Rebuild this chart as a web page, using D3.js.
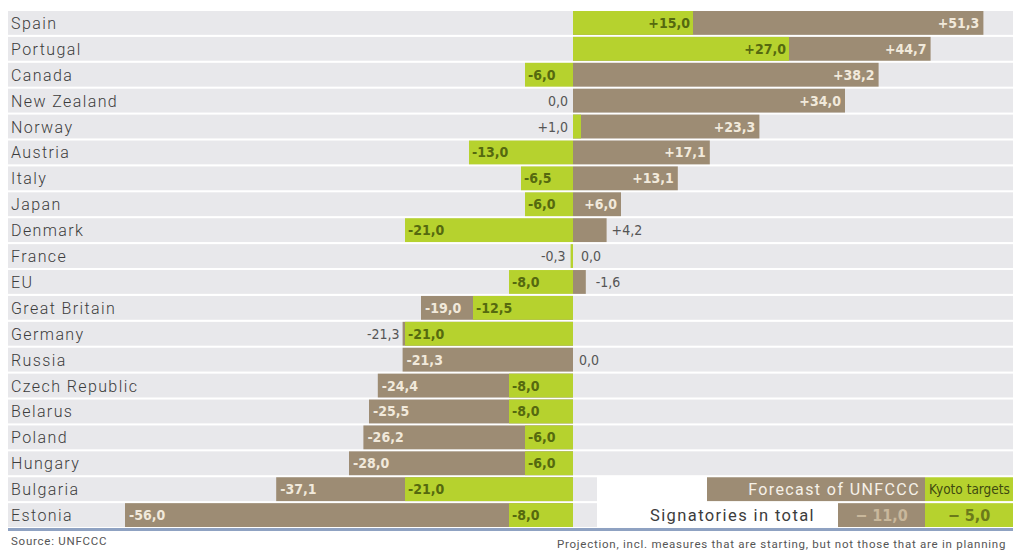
<!DOCTYPE html>
<html>
<head>
<meta charset="utf-8">
<script src="https://cdn.jsdelivr.net/npm/d3@7"></script>
<style>
  body { margin: 0; background: #fff; }
  svg { display: block; }
  .name { font-family: Roboto, "DejaVu Sans", sans-serif; font-size: 16px; font-weight: 300; letter-spacing: 1.4px; fill: #3c3c3c; }
  .val { font-family: "DejaVu Sans Condensed", "Liberation Sans Narrow", sans-serif; font-size: 14px; font-weight: bold; }
  .note { font-family: Roboto, "DejaVu Sans", sans-serif; font-size: 11.5px; letter-spacing: 0.75px; fill: #555; }
</style>
</head>
<body>
<div id="chart"></div>
<script>
// values in percent change of emissions vs 1990
const countries = ["Spain", "Portugal", "Canada", "New Zealand", "Norway", "Austria", "Italy",
  "Japan", "Denmark", "France", "EU", "Great Britain", "Germany", "Russia", "Czech Republic",
  "Belarus", "Poland", "Hungary", "Bulgaria", "Estonia"];
const kyoto = [15, 27, -6, 0, 1, -13, -6.5, -6, -21, -0.3, -8, -12.5, -21, 0, -8, -8, -6, -6, -21, -8];
const forecast = [51.3, 44.7, 38.2, 34, 23.3, 17.1, 13.1, 6, 4.2, 0, -1.6, -19, -21.3, -21.3,
  -24.4, -25.5, -26.2, -28, -37.1, -56];
const totalLabel = "Signatories in total";
const totalForecast = -11.0;
const totalKyoto = -5.0;

const W = 1013, H = 550;
const green = "#b6d22e", brown = "#9d8c74", rowBg = "#e8e8eb";
const greenText = "#55690f", brownText = "#f1e9db", greyText = "#555";

const svg = d3.select("#chart").append("svg").attr("width", W).attr("height", H);

const x = d3.scaleLinear().domain([-60, 55]).range([93, 1013]);
const y = d3.scaleBand().domain(countries).range([11, 527]).paddingInner(0.08);
const bh = y.bandwidth();
const fmt = v => (v > 0 ? "+" : v < 0 ? "-" : "") + Math.abs(v).toFixed(1).replace(".", ",");

// row backgrounds; the last two rows leave room for the legend
svg.selectAll("rect.bg").data(countries).enter().append("rect")
  .attr("class", "bg")
  .attr("x", 8).attr("y", d => y(d))
  .attr("width", (d, i) => i >= countries.length - 2 ? x(3) - 8 : W - 8)
  .attr("height", bh).attr("fill", rowBg);

svg.selectAll("text.name").data(countries).enter().append("text")
  .attr("class", "name")
  .attr("x", 11).attr("y", d => y(d) + bh / 2 + 6)
  .text(d => d);

const rows = countries.map((c, i) => ({ c, g: kyoto[i], f: forecast[i] }));

rows.forEach(r => {
  const yy = y(r.c), cy = yy + bh / 2 + 5;
  const g = r.g, f = r.f;
  const sameSign = g * f > 0;
  const hidden = sameSign && Math.abs(f) <= Math.abs(g);

  // forecast bar (behind); a hidden one is shown as a stub on the free side
  let fx0 = Math.min(0, f), fx1 = Math.max(0, f);
  if (hidden) { fx0 = 0; fx1 = Math.abs(f); if (g > 0) { fx0 = -Math.abs(f); fx1 = 0; } }
  svg.append("rect").attr("x", x(fx0)).attr("y", yy)
    .attr("width", x(fx1) - x(fx0)).attr("height", bh).attr("fill", brown);

  // kyoto bar (front)
  svg.append("rect").attr("x", x(Math.min(0, g))).attr("y", yy)
    .attr("width", Math.abs(x(g) - x(0))).attr("height", bh).attr("fill", green);

  // kyoto label
  const gw = Math.abs(x(g) - x(0));
  const gt = svg.append("text").attr("class", "val").attr("y", cy).text(fmt(g));
  if (gw >= 36) {
    gt.attr("fill", greenText)
      .attr("x", g > 0 ? x(g) - 3 : x(g) + 3)
      .attr("text-anchor", g > 0 ? "end" : "start");
  } else {
    const left = f > 0 || (f === 0 && g < 0);
    gt.attr("fill", greyText).style("font-weight", "normal")
      .attr("x", left ? x(Math.min(0, g)) - 5 : x(Math.max(0, g)) + 6)
      .attr("text-anchor", left ? "end" : "start");
  }

  // forecast label
  let vis = Math.abs(x(f) - x(0));
  if (sameSign) vis = Math.max(0, Math.abs(x(f) - x(0)) - gw);
  const ft = svg.append("text").attr("class", "val").attr("y", cy).text(fmt(f));
  if (!hidden && vis >= 36) {
    ft.attr("fill", brownText)
      .attr("x", f > 0 ? x(f) - 4 : x(f) + 4)
      .attr("text-anchor", f > 0 ? "end" : "start");
  } else if (!hidden && f !== 0) {
    ft.attr("fill", greyText).style("font-weight", "normal")
      .attr("x", f > 0 ? x(f) + 5 : x(f) - 3)
      .attr("text-anchor", f > 0 ? "start" : "end");
  } else {
    ft.attr("fill", greyText).style("font-weight", "normal")
      .attr("x", x(fx1) + (hidden ? 10 : 8))
      .attr("text-anchor", "start");
  }
});

// legend + signatories total in the two bottom rows
const legY = y(countries[countries.length - 2]);
const totY = y(countries[countries.length - 1]);
const bx0 = 707, bx1 = 925, bx2 = W;
svg.append("rect").attr("x", bx0).attr("y", legY).attr("width", bx1 - bx0).attr("height", bh).attr("fill", brown);
svg.append("rect").attr("x", bx1).attr("y", legY).attr("width", bx2 - bx1).attr("height", bh).attr("fill", green);
svg.append("text").attr("class", "name").attr("x", bx1 - 5).attr("y", legY + bh / 2 + 6)
  .attr("text-anchor", "end").style("fill", "#f6f1e8").style("font-weight", "normal").text("Forecast of UNFCCC");
svg.append("text").attr("class", "val").attr("x", bx1 + 4).attr("y", legY + bh / 2 + 5)
  .style("font-weight", "normal").style("font-size", "13.5px")
  .attr("fill", "#3f4a10").text("Kyoto targets");

svg.append("rect").attr("x", 838).attr("y", totY).attr("width", bx1 - 838).attr("height", bh).attr("fill", brown);
svg.append("rect").attr("x", bx1).attr("y", totY).attr("width", bx2 - bx1).attr("height", bh).attr("fill", green);
svg.append("text").attr("class", "name").attr("x", 815).attr("y", totY + bh / 2 + 6)
  .attr("text-anchor", "end").style("font-size", "16.5px").style("font-weight", "normal").text(totalLabel);
svg.append("text").attr("class", "val").attr("x", (838 + bx1) / 2).attr("y", totY + bh / 2 + 6)
  .attr("text-anchor", "middle").style("font-size", "16px").attr("fill", "#c9b89c")
  .text("\u2212 " + Math.abs(totalForecast).toFixed(1).replace(".", ","));
svg.append("text").attr("class", "val").attr("x", (bx1 + bx2) / 2).attr("y", totY + bh / 2 + 6)
  .attr("text-anchor", "middle").style("font-size", "16px").attr("fill", "#6b7a1a")
  .text("\u2212 " + Math.abs(totalKyoto).toFixed(1).replace(".", ","));

// bottom rule and notes
svg.append("rect").attr("x", 8).attr("y", 528).attr("width", W - 8).attr("height", 3).attr("fill", "#8fa2c2");
svg.append("text").attr("class", "note").attr("x", 11).attr("y", 545).text("Source: UNFCCC");
svg.append("text").attr("class", "note").attr("x", 557).attr("y", 548)
  .text("Projection, incl. measures that are starting, but not those that are in planning");
</script>
</body>
</html>
